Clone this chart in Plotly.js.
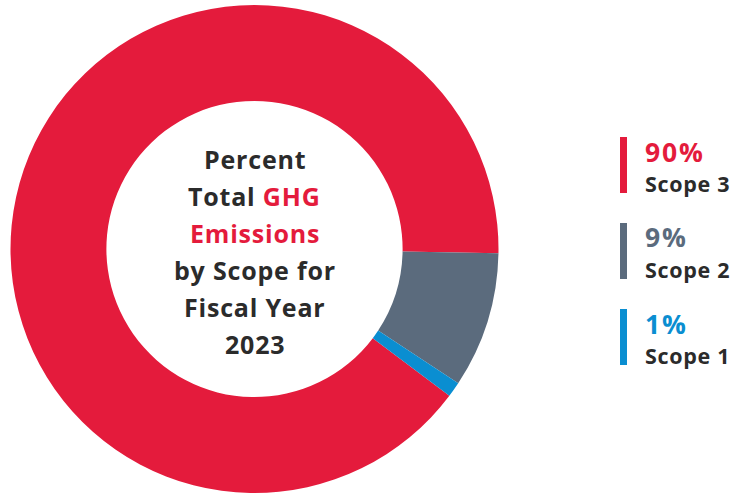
<!DOCTYPE html>
<html>
<head>
<meta charset="utf-8">
<script src="https://cdn.plot.ly/plotly-3.0.1.min.js"></script>
<style>html,body{margin:0;padding:0;background:#fff;}#chart{width:736px;height:496px;}</style>
</head>
<body>
<div id="chart"></div>
<script>
// Data
var categories = ["Scope 3", "Scope 2", "Scope 1"];
var values = [90, 9, 1];
var percentLabels = ["90%", "9%", "1%"];
var colors = ["#E41B3C", "#5B6B7D", "#0A8ED1"];
var centerLines = [
  "Percent",
  "Total <span style='color:#E41B3C'>GHG</span>",
  "<span style='color:#E41B3C'>Emissions</span>",
  "by Scope for",
  "Fiscal Year",
  "2023"
];

var W = 736, H = 496;
function px(x){ return x / W; }
function py(y){ return 1 - y / H; }

var FONT = "'Open Sans', Lato, sans-serif";
var dark = "#2B2B2B";

function spaced(t, ls){
  return "<span style='letter-spacing:" + ls + "px'><b>" + t + "</b></span>";
}

var trace = {
  type: "pie",
  labels: categories,
  values: values,
  marker: { colors: colors, line: { width: 0 } },
  hole: 0.607,
  sort: false,
  direction: "clockwise",
  rotation: 127,
  textinfo: "none",
  hoverinfo: "label+percent",
  showlegend: false,
  domain: { x: [px(10.5), px(498.5)], y: [py(493), py(5)] }
};

var annotations = [];
var lineY0 = 158.5, lineStep = 37;
centerLines.forEach(function(t, i){
  annotations.push({
    xref: "paper", yref: "paper",
    x: px(254.5), y: py(lineY0 + i * lineStep),
    xanchor: "center", yanchor: "middle",
    text: spaced(t, 0.8),
    showarrow: false,
    font: { family: FONT, size: 25, color: dark }
  });
});

var shapes = [];
var legendTop = [137, 223, 309];
categories.forEach(function(c, i){
  var top = legendTop[i];
  shapes.push({
    type: "rect", xref: "paper", yref: "paper",
    x0: px(620), x1: px(627), y0: py(top + 56), y1: py(top),
    fillcolor: colors[i], line: { width: 0 }
  });
  annotations.push({
    xref: "paper", yref: "paper",
    x: px(643), y: py(top + 14.5),
    xanchor: "left", yanchor: "middle",
    text: spaced(percentLabels[i], 1.8),
    showarrow: false,
    font: { family: FONT, size: 26.5, color: colors[i] }
  });
  annotations.push({
    xref: "paper", yref: "paper",
    x: px(643), y: py(top + 46.5),
    xanchor: "left", yanchor: "middle",
    text: spaced(c, 0.7),
    showarrow: false,
    font: { family: FONT, size: 21.5, color: dark }
  });
});

var layout = {
  width: W, height: H,
  margin: { l: 0, r: 0, t: 0, b: 0 },
  paper_bgcolor: "#ffffff",
  plot_bgcolor: "#ffffff",
  annotations: annotations,
  shapes: shapes,
  showlegend: false
};

Plotly.newPlot("chart", [trace], layout, { displayModeBar: false, staticPlot: true });
</script>
</body>
</html>
